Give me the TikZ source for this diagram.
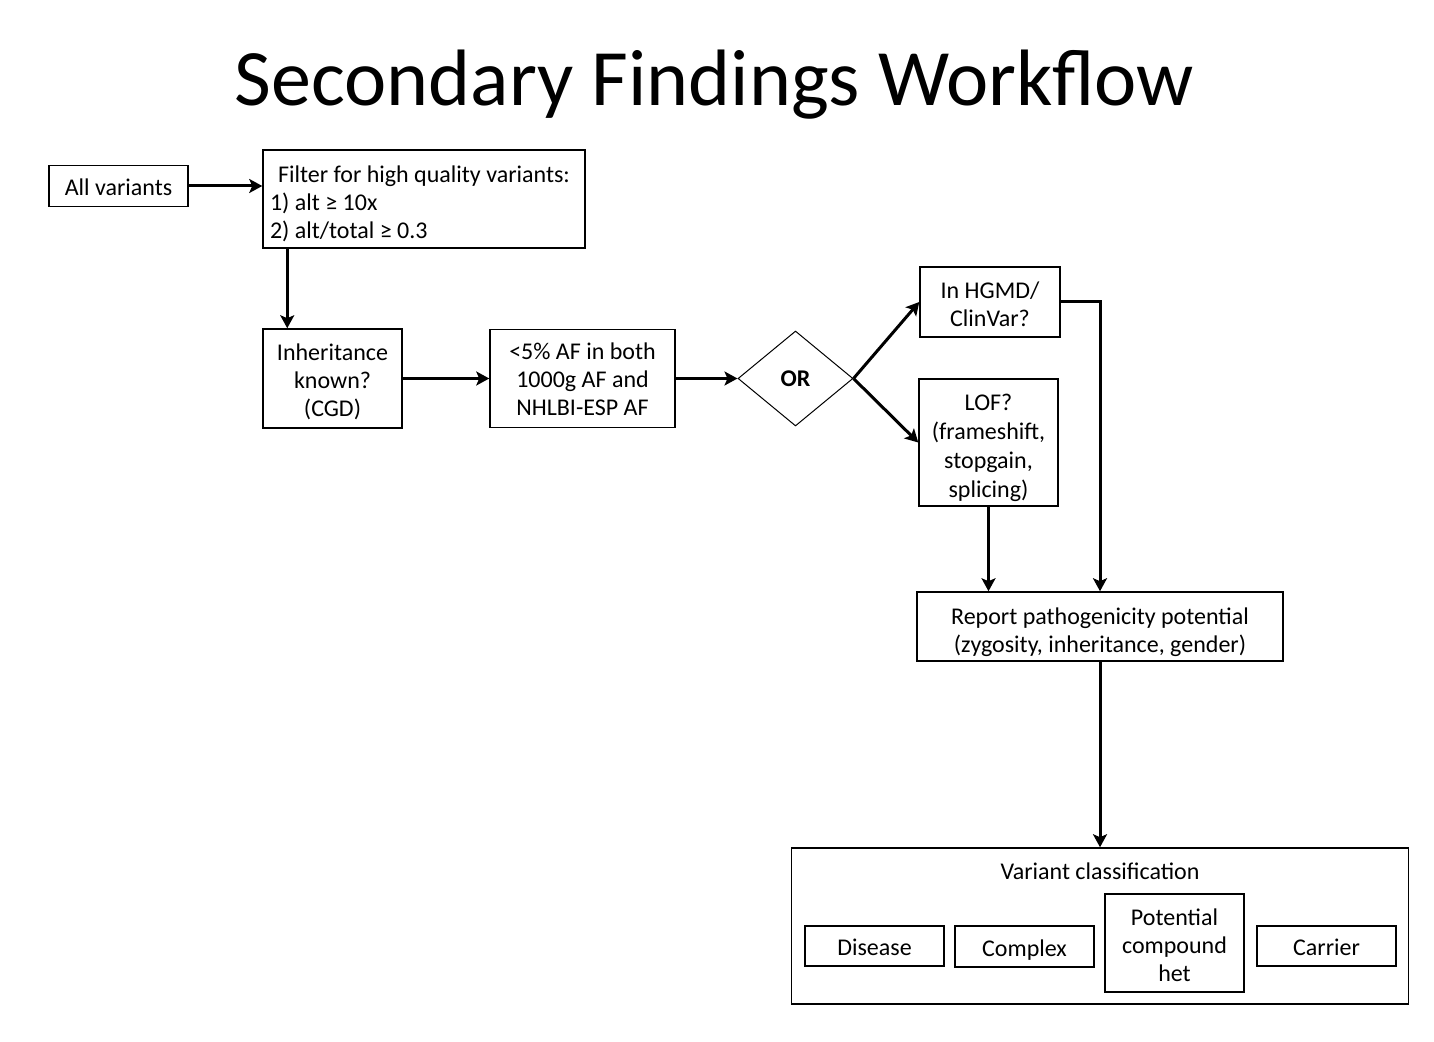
\documentclass[tikz,border=0pt]{standalone}
\usepackage{fontspec}
\setmainfont{Carlito}
\usetikzlibrary{arrows.meta,shapes.geometric}

\newcommand{\sd}[1]{\rule{0pt}{#1pt}}
\newcommand{\oneline}[1]{\raisebox{0pt}[9.5pt][0pt]{#1}}
\tikzset{every node/.style={font=\fontsize{12}{14}\selectfont},
box/.style={draw,line width=0.75pt,align=center,inner sep=0pt},
flow/.style={line width=1.5pt,-{Stealth[length=6.5pt,width=7pt,inset=1.5pt]}}}

\begin{document}
\begin{tikzpicture}[x=0.5pt,y=-0.5pt]
\useasboundingbox (0,0) rectangle (1434,1042);
\node[anchor=base,font=\fontsize{40}{48}\selectfont] (title) at (714.5,106) {Secondary Findings Workflow};
\path
(118.5,186) node[box,minimum width=69.5pt,minimum height=20.5pt] (all){\oneline{All variants}}
(424,199) node[box,minimum width=161pt,minimum height=49pt,text width=154pt,inner xsep=3.5pt,align=flush left] (filt){\sd{13}\hspace*{4pt}Filter for high quality variants:\\1) alt ≥ 10x\\2) alt/total ≥ 0.3}
(332.5,378.5) node[box,minimum width=69.5pt,minimum height=49.5pt] (inh){\sd{11.5}Inheritance\\known?\\(CGD)}
(582.5,378.5) node[box,minimum width=92.5pt,minimum height=49pt] (af){\sd{9.5}<5\% AF in both\\1000g AF and\\NHLBI-ESP AF}
(795.5,378.5) node[draw,diamond,line width=0.5pt,inner sep=0pt,minimum width=57.5pt,minimum height=47.5pt,font=\fontsize{12}{14}\selectfont\bfseries] (or){OR}
(990,302) node[box,minimum width=70pt,minimum height=35pt] (hgmd){\sd{11}In HGMD/\\ClinVar?}
(988.5,442.5) node[box,minimum width=69.5pt,minimum height=63.5pt,font=\fontsize{12}{14.4}\selectfont] (lof){\sd{13.5}LOF?\\(frameshift,\\stopgain,\\splicing)}
(1100,626.5) node[box,minimum width=183pt,minimum height=34.5pt] (rep){\sd{14.5}Report pathogenicity potential\\(zygosity, inheritance, gender)}
(1100,926) node[box,minimum width=308.5pt,minimum height=78pt] (cls){}
(1100,871) node (clstitle){Variant classification}
(874.5,946) node[box,minimum width=69.5pt,minimum height=20pt] (dis){\oneline{Disease}}
(1024.5,946.5) node[box,minimum width=69.5pt,minimum height=20.5pt] (cpx){\oneline{Complex}}
(1174.5,943) node[box,minimum width=69.5pt,minimum height=49pt] (het){\sd{10.5}Potential\\compound\\het}
(1326.5,946) node[box,minimum width=69.5pt,minimum height=20pt] (car){\oneline{Carrier}};
\path[draw,flow] (all.east) -- (all.east -| filt.west);
\path[draw,flow] ([xshift=12.5pt]filt.south west) -- ([xshift=12.5pt]filt.south west |- inh.north);
\path[draw,flow] (inh.east) -- (af.west);
\path[draw,flow] (af.east) -- (or.west);
\path[draw,flow] (or.east) -- (hgmd.west);
\path[draw,flow] (or.east) -- (lof.west);
\path[draw,flow] (hgmd.east) -| (rep.north);
\path[draw,flow] (lof.south) -- (lof.south |- rep.north);
\path[draw,flow] (rep.south) -- (cls.north);
\end{tikzpicture}
\end{document}
